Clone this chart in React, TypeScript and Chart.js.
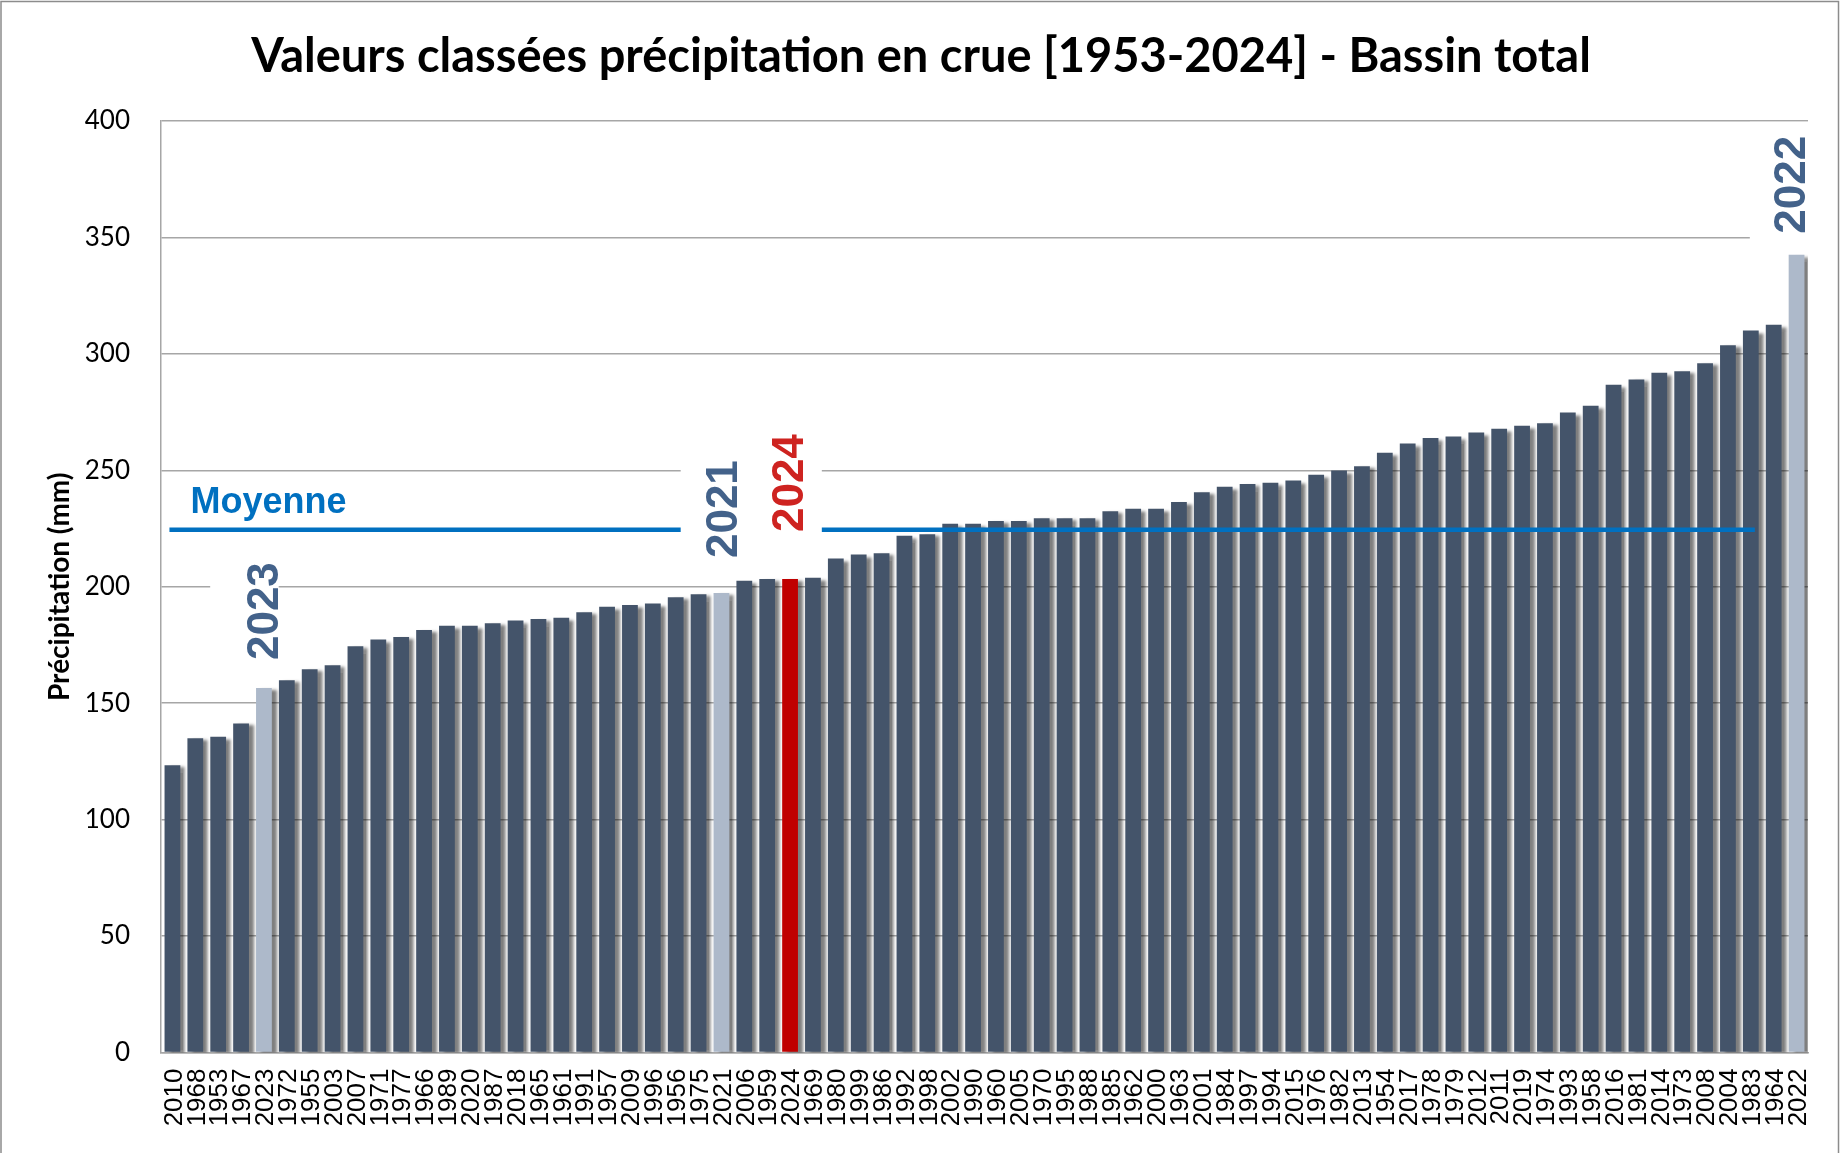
import React, { useEffect, useRef } from "react";
import { Chart, registerables } from "chart.js";

Chart.register(...registerables);

// ---------- DATA ----------
const YEARS: string[] = [
  "2010", "1968", "1953", "1967", "2023", "1972", "1955", "2003", "2007", "1971",
  "1977", "1966", "1989", "2020", "1987", "2018", "1965", "1961", "1991", "1957",
  "2009", "1996", "1956", "1975", "2021", "2006", "1959", "2024", "1969", "1980",
  "1999", "1986", "1992", "1998", "2002", "1990", "1960", "2005", "1970", "1995",
  "1988", "1985", "1962", "2000", "1963", "2001", "1984", "1997", "1994", "2015",
  "1976", "1982", "2013", "1954", "2017", "1978", "1979", "2012", "2011", "2019",
  "1974", "1993", "1958", "2016", "1981", "2014", "1973", "2008", "2004", "1983",
  "1964", "2022",
];

const PRECIP_MM: number[] = [
  123.4, 134.9, 135.6, 141.3, 156.5, 159.8, 164.6, 166.3, 174.4, 177.3,
  178.4, 181.4, 183.2, 183.2, 184.3, 185.5, 186.1, 186.7, 189.0, 191.4,
  192.2, 192.8, 195.5, 196.8, 197.3, 202.6, 203.3, 203.3, 203.9, 212.1,
  213.8, 214.4, 221.9, 222.5, 227.1, 227.1, 228.2, 228.2, 229.4, 229.4,
  229.4, 232.4, 233.5, 233.5, 236.4, 240.6, 242.9, 244.1, 244.7, 245.6,
  248.1, 249.9, 251.7, 257.5, 261.5, 263.9, 264.5, 266.2, 267.9, 269.1,
  270.2, 274.8, 277.7, 286.7, 289.0, 291.9, 292.5, 296.0, 303.7, 310.0,
  312.5, 342.6,
];

const MEAN_MM = 224.5;
const LIGHT_YEARS: string[] = ["2023", "2021", "2022"];
const RED_YEARS: string[] = ["2024"];
const ANNOTATED_YEARS: string[] = ["2023", "2021", "2024", "2022"];
const Y_TICKS: number[] = [0, 50, 100, 150, 200, 250, 300, 350, 400];

const TITLE = "Valeurs classées précipitation en crue [1953-2024] - Bassin total";
const Y_TITLE = "Précipitation (mm)";
const MEAN_LABEL = "Moyenne";

// ---------- STYLES ----------
const W = 1842;
const H = 1153;
const BAR_DARK = "#44546A";
const BAR_LIGHT = "#ADB9CA";
const BAR_RED = "#C00000";
const GRID = "#A6A6A6";
const MEAN_BLUE = "#0070C0";
const LABEL_BLUE = "#43628A";
const LABEL_RED = "#CE2320";

const ANNOT_STYLE: Record<string, { color: string; gap: number; dx: number; padL: number; padR: number }> = {
  "2023": { color: LABEL_BLUE, gap: 28, dx: -2, padL: 36, padR: 1 },
  "2021": { color: LABEL_BLUE, gap: 35, dx: 0, padL: 25, padR: 18 },
  "2024": { color: LABEL_RED, gap: 47, dx: -3, padL: 18, padR: 19 },
  "2022": { color: LABEL_BLUE, gap: 21, dx: -7, padL: 24, padR: 30 },
};

const SANS = "'Liberation Sans', Arial, sans-serif";
const HUMANIST = "Lato, 'Open Sans', sans-serif";

const shadowPlugin = {
  id: "barShadow",
  beforeDatasetsDraw(chart: any) {
    const ctx = chart.ctx;
    ctx.save();
    ctx.shadowColor = "rgba(0,0,0,0.5)";
    ctx.shadowBlur = 3;
    ctx.shadowOffsetX = 5;
    ctx.shadowOffsetY = 2;
  },
  afterDatasetsDraw(chart: any) {
    const ctx = chart.ctx;
    ctx.restore();
    const xs = chart.scales.x;
    const ys = chart.scales.y;

    // mean line
    const yMean = ys.getPixelForValue(MEAN_MM);
    ctx.save();
    ctx.strokeStyle = MEAN_BLUE;
    ctx.lineWidth = 4.5;
    ctx.beginPath();
    ctx.moveTo(xs.getPixelForValue(0) - 3, yMean);
    ctx.lineTo(xs.getPixelForValue(69) + 4, yMean);
    ctx.stroke();

    ctx.fillStyle = MEAN_BLUE;
    ctx.font = `bold 36px ${SANS}`;
    ctx.textAlign = "left";
    ctx.textBaseline = "alphabetic";
    ctx.fillText(MEAN_LABEL, xs.getPixelForValue(0) + 18, yMean - 17);

    // annotated years
    const fontSize = 44;
    ctx.font = `bold ${fontSize}px ${SANS}`;
    const cap = fontSize * 0.716;
    ANNOTATED_YEARS.forEach((yr) => {
      const i = YEARS.indexOf(yr);
      if (i < 0) return;
      const st = ANNOT_STYLE[yr];
      const cx = xs.getPixelForValue(i) + st.dx;
      const barTop = ys.getPixelForValue(PRECIP_MM[i]);
      const bottom = barTop - st.gap;
      const len = ctx.measureText(yr).width;
      const top = bottom - len;
      ctx.fillStyle = "#ffffff";
      ctx.fillRect(cx - cap / 2 - st.padL, top - 14, cap + st.padL + st.padR, len + 26);
    });
    ANNOTATED_YEARS.forEach((yr) => {
      const i = YEARS.indexOf(yr);
      if (i < 0) return;
      const st = ANNOT_STYLE[yr];
      const cx = xs.getPixelForValue(i) + st.dx;
      const barTop = ys.getPixelForValue(PRECIP_MM[i]);
      const bottom = barTop - st.gap;
      ctx.save();
      ctx.translate(cx, bottom);
      ctx.rotate(-Math.PI / 2);
      ctx.fillStyle = st.color;
      ctx.textAlign = "left";
      ctx.textBaseline = "alphabetic";
      ctx.fillText(yr, 0, cap / 2);
      ctx.restore();
    });
    ctx.restore();
  },
  afterDraw(chart: any) {
    const ctx = chart.ctx;
    const xs = chart.scales.x;
    const area = chart.chartArea;
    ctx.save();

    // title
    ctx.fillStyle = "#000";
    ctx.font = `bold 47px ${HUMANIST}`;
    ctx.textAlign = "center";
    ctx.textBaseline = "alphabetic";
    ctx.fillText(TITLE, 921, 72);

    // y title
    ctx.save();
    ctx.translate(60, (area.top + area.bottom) / 2);
    ctx.rotate(-Math.PI / 2);
    ctx.font = `bold 28px ${HUMANIST}`;
    ctx.textAlign = "center";
    ctx.textBaseline = "middle";
    ctx.fillText(Y_TITLE, 0, 0);
    ctx.restore();

    // x tick labels (vertical)
    const fs = 26;
    ctx.font = `${fs}px ${SANS}`;
    ctx.fillStyle = "#000";
    YEARS.forEach((yr, i) => {
      const x = xs.getPixelForValue(i);
      ctx.save();
      ctx.translate(x, area.bottom + 16);
      ctx.rotate(-Math.PI / 2);
      ctx.textAlign = "right";
      ctx.textBaseline = "alphabetic";
      ctx.fillText(yr, 0, fs * 0.358);
      ctx.restore();
    });

    // outer frame
    ctx.strokeStyle = "#8C8C8C";
    ctx.lineWidth = 1.5;
    ctx.strokeRect(1, 1.5, 1837.5, H + 10);
    ctx.restore();
  },
};

export default function App() {
  const ref = useRef<HTMLCanvasElement>(null);

  useEffect(() => {
    let chart: Chart | null = null;
    let cancelled = false;
    const make = () => {
      if (cancelled || !ref.current) return;
      const colors = YEARS.map((y) =>
        RED_YEARS.includes(y) ? BAR_RED : LIGHT_YEARS.includes(y) ? BAR_LIGHT : BAR_DARK
      );
      chart = new Chart(ref.current, {
        type: "bar",
        data: {
          labels: YEARS,
          datasets: [
            {
              data: PRECIP_MM,
              backgroundColor: colors,
              borderWidth: 0,
              barPercentage: 0.69,
              categoryPercentage: 1.0,
            },
          ],
        },
        options: {
          responsive: false,
          animation: false,
          devicePixelRatio: 1,
          layout: { padding: { left: 0, top: 121, right: 34, bottom: 0 } },
          plugins: {
            legend: { display: false },
            title: { display: false },
            tooltip: { enabled: false },
          },
          scales: {
            x: {
              type: "category",
              offset: true,
              grid: { display: false, drawTicks: false },
              border: { display: true, color: GRID, width: 1.5 },
              ticks: { display: false, autoSkip: false },
              afterFit: (s: any) => {
                s.height = 100.5;
              },
            },
            y: {
              min: 0,
              max: 400,
              afterBuildTicks: (s: any) => {
                s.ticks = Y_TICKS.map((v) => ({ value: v }));
              },
              grid: { color: GRID, lineWidth: 1.5, drawTicks: false },
              border: { display: true, color: GRID, width: 1.5 },
              ticks: {
                padding: 31,
                color: "#000",
                font: { family: HUMANIST, size: 26 },
              },
              afterFit: (s: any) => {
                s.width = 161;
              },
            },
          },
        },
        plugins: [shadowPlugin],
      });
    };
    const fonts = (document as any).fonts;
    if (fonts && fonts.load) {
      Promise.all([
        fonts.load(`bold 47px Lato`),
        fonts.load(`26px Lato`),
        fonts.load(`bold 44px "Liberation Sans"`),
        fonts.load(`26px "Liberation Sans"`),
      ])
        .catch(() => null)
        .then(make);
    } else {
      make();
    }
    return () => {
      cancelled = true;
      if (chart) chart.destroy();
    };
  }, []);

  return (
    <div style={{ position: "fixed", left: 0, top: 0, width: W, height: H, background: "#fff" }}>
      <canvas ref={ref} width={W} height={H} style={{ display: "block", width: W, height: H }} />
    </div>
  );
}
